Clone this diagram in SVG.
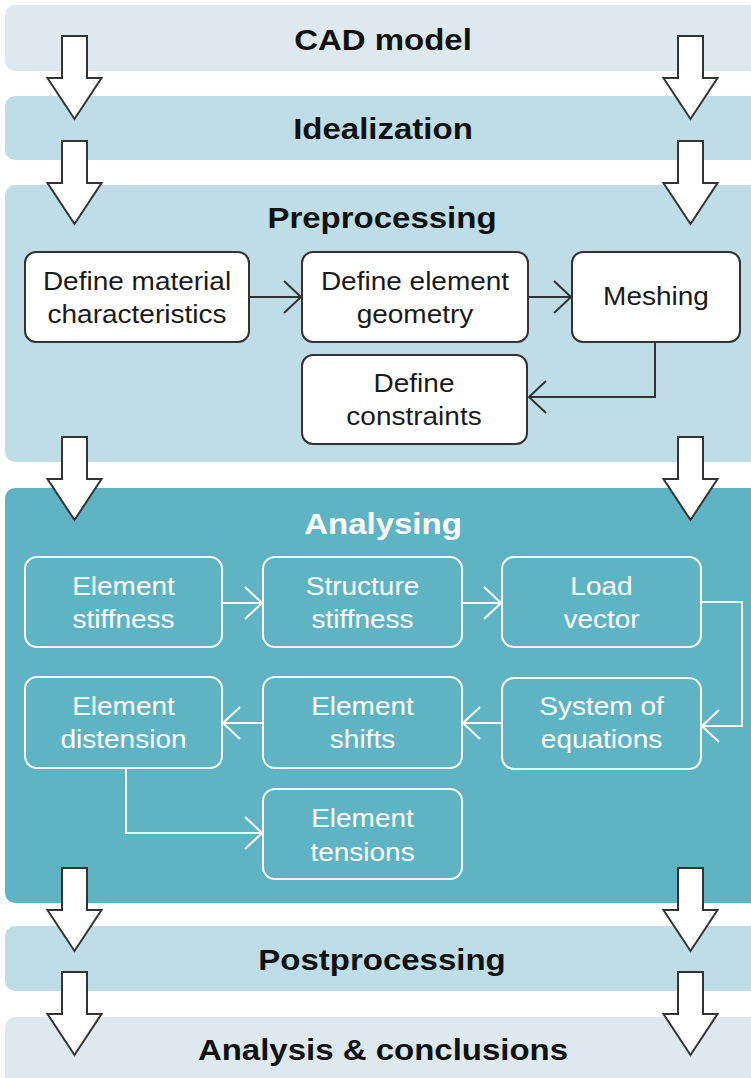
<svg xmlns="http://www.w3.org/2000/svg" width="751" height="1078" viewBox="0 0 751 1078">
  <style>
    .band-light { fill: #dde9ee; }
    .band-mid { fill: #bedde6; }
    .band-dark { fill: #5fb4c4; }
    .title { font-family: "Liberation Sans", Arial, sans-serif; font-weight: bold; font-size: 30px; text-anchor: middle; fill: #111; }
    .title-w { fill: #ffffff; }
    .box { fill: #ffffff; stroke: #333333; stroke-width: 2; }
    .box-w { fill: none; stroke: #ffffff; stroke-width: 2; }
    .lbl { font-family: "Liberation Sans", Arial, sans-serif; font-size: 25px; text-anchor: middle; fill: #1a1a1a; }
    .lbl-w { fill: #ffffff; }
    .conn { fill: none; stroke: #333333; stroke-width: 2; }
    .conn-w { fill: none; stroke: #ffffff; stroke-width: 2; }
    .flow { fill: #ffffff; stroke: #333333; stroke-width: 2; stroke-linejoin: miter; }
  </style>
  <defs>
    <marker id="chev" viewBox="0 0 20 34" markerWidth="20" markerHeight="34" refX="18" refY="17" orient="auto" markerUnits="userSpaceOnUse">
      <path d="M1,1 L18,17 L1,33" fill="none" stroke="#333333" stroke-width="2"/>
    </marker>
    <marker id="chev-w" viewBox="0 0 20 34" markerWidth="20" markerHeight="34" refX="18" refY="17" orient="auto" markerUnits="userSpaceOnUse">
      <path d="M1,1 L18,17 L1,33" fill="none" stroke="#ffffff" stroke-width="2"/>
    </marker>
    <!-- block arrow pointing down, origin at shaft top centre -->
    <path id="down" d="M-12.5,0 H12.5 V42 H27 L0,83 L-27,42 H-12.5 Z"/>
  </defs>

  <!-- stage bands -->
  <g id="stage-cad">
    <rect class="band-light" x="5" y="5" width="760" height="66" rx="10"/>
    <text class="title" transform="translate(383,50) scale(1.1,1)">CAD model</text>
  </g>
  <g id="stage-idealization">
    <rect class="band-mid" x="5" y="96" width="760" height="64" rx="10"/>
    <text class="title" transform="translate(383,139) scale(1.1,1)">Idealization</text>
  </g>
  <g id="stage-preprocessing">
    <rect class="band-mid" x="5" y="185" width="760" height="277" rx="10"/>
    <text class="title" transform="translate(382,228) scale(1.1,1)">Preprocessing</text>
  </g>
  <g id="stage-analysing">
    <rect class="band-dark" x="5" y="488" width="760" height="415" rx="10"/>
    <text class="title title-w" transform="translate(383,534) scale(1.1,1)">Analysing</text>
  </g>
  <g id="stage-postprocessing">
    <rect class="band-mid" x="5" y="926" width="760" height="65" rx="10"/>
    <text class="title" transform="translate(382,970) scale(1.1,1)">Postprocessing</text>
  </g>
  <g id="stage-conclusions">
    <rect class="band-light" x="5" y="1017" width="760" height="75" rx="10"/>
    <text class="title" transform="translate(383,1060) scale(1.1,1)">Analysis &amp; conclusions</text>
  </g>

  <!-- preprocessing steps -->
  <g id="node-material">
    <rect class="box" x="25" y="252" width="224" height="90" rx="11"/>
    <text class="lbl" transform="translate(137,290) scale(1.12,1)">Define material</text>
    <text class="lbl" transform="translate(137,323) scale(1.12,1)">characteristics</text>
  </g>
  <g id="node-geometry">
    <rect class="box" x="302" y="252" width="226" height="90" rx="11"/>
    <text class="lbl" transform="translate(415,290) scale(1.12,1)">Define element</text>
    <text class="lbl" transform="translate(415,323) scale(1.12,1)">geometry</text>
  </g>
  <g id="node-meshing">
    <rect class="box" x="572" y="252" width="168" height="90" rx="11"/>
    <text class="lbl" transform="translate(656,305) scale(1.12,1)">Meshing</text>
  </g>
  <g id="node-constraints">
    <rect class="box" x="302" y="355" width="225" height="89" rx="11"/>
    <text class="lbl" transform="translate(414,392) scale(1.12,1)">Define</text>
    <text class="lbl" transform="translate(414,425) scale(1.12,1)">constraints</text>
  </g>

  <!-- analysing steps -->
  <g id="node-el-stiffness">
    <rect class="box-w" x="25" y="557" width="197" height="90" rx="12"/>
    <text class="lbl lbl-w" transform="translate(123.5,595) scale(1.12,1)">Element</text>
    <text class="lbl lbl-w" transform="translate(123.5,628) scale(1.12,1)">stiffness</text>
  </g>
  <g id="node-st-stiffness">
    <rect class="box-w" x="263" y="557" width="199" height="90" rx="12"/>
    <text class="lbl lbl-w" transform="translate(362.5,595) scale(1.12,1)">Structure</text>
    <text class="lbl lbl-w" transform="translate(362.5,628) scale(1.12,1)">stiffness</text>
  </g>
  <g id="node-load">
    <rect class="box-w" x="502" y="557" width="199" height="90" rx="12"/>
    <text class="lbl lbl-w" transform="translate(601.5,595) scale(1.12,1)">Load</text>
    <text class="lbl lbl-w" transform="translate(601.5,628) scale(1.12,1)">vector</text>
  </g>
  <g id="node-system">
    <rect class="box-w" x="502" y="678" width="199" height="91" rx="12"/>
    <text class="lbl lbl-w" transform="translate(601.5,715) scale(1.12,1)">System of</text>
    <text class="lbl lbl-w" transform="translate(601.5,748) scale(1.12,1)">equations</text>
  </g>
  <g id="node-shifts">
    <rect class="box-w" x="263" y="677" width="199" height="91" rx="12"/>
    <text class="lbl lbl-w" transform="translate(362.5,715) scale(1.12,1)">Element</text>
    <text class="lbl lbl-w" transform="translate(362.5,748) scale(1.12,1)">shifts</text>
  </g>
  <g id="node-distension">
    <rect class="box-w" x="25" y="677" width="197" height="91" rx="12"/>
    <text class="lbl lbl-w" transform="translate(123.5,715) scale(1.12,1)">Element</text>
    <text class="lbl lbl-w" transform="translate(123.5,748) scale(1.12,1)">distension</text>
  </g>
  <g id="node-tensions">
    <rect class="box-w" x="263" y="789" width="199" height="90" rx="12"/>
    <text class="lbl lbl-w" transform="translate(362.5,827) scale(1.12,1)">Element</text>
    <text class="lbl lbl-w" transform="translate(362.5,861) scale(1.12,1)">tensions</text>
  </g>

  <!-- connectors -->
  <g id="connectors">
    <path class="conn" d="M249,297 H301" marker-end="url(#chev)"/>
    <path class="conn" d="M528,297 H571" marker-end="url(#chev)"/>
    <path class="conn" d="M655,342 V397 H529" marker-end="url(#chev)"/>

    <path class="conn-w" d="M222,603 H262" marker-end="url(#chev-w)"/>
    <path class="conn-w" d="M462,603 H501" marker-end="url(#chev-w)"/>
    <path class="conn-w" d="M701,602 H742 V726 H702" marker-end="url(#chev-w)"/>
    <path class="conn-w" d="M502,723 H463" marker-end="url(#chev-w)"/>
    <path class="conn-w" d="M263,723 H223" marker-end="url(#chev-w)"/>
    <path class="conn-w" d="M126,768 V833 H262" marker-end="url(#chev-w)"/>

    <!-- stage-to-stage block arrows -->
    <use href="#down" class="flow" x="74.5" y="36"/>
    <use href="#down" class="flow" x="690.5" y="36"/>
    <use href="#down" class="flow" x="74.5" y="141"/>
    <use href="#down" class="flow" x="690.5" y="141"/>
    <use href="#down" class="flow" x="74.5" y="437"/>
    <use href="#down" class="flow" x="690.5" y="437"/>
    <use href="#down" class="flow" x="74.5" y="868"/>
    <use href="#down" class="flow" x="690.5" y="868"/>
    <use href="#down" class="flow" x="74.5" y="972"/>
    <use href="#down" class="flow" x="690.5" y="972"/>
  </g>
</svg>
